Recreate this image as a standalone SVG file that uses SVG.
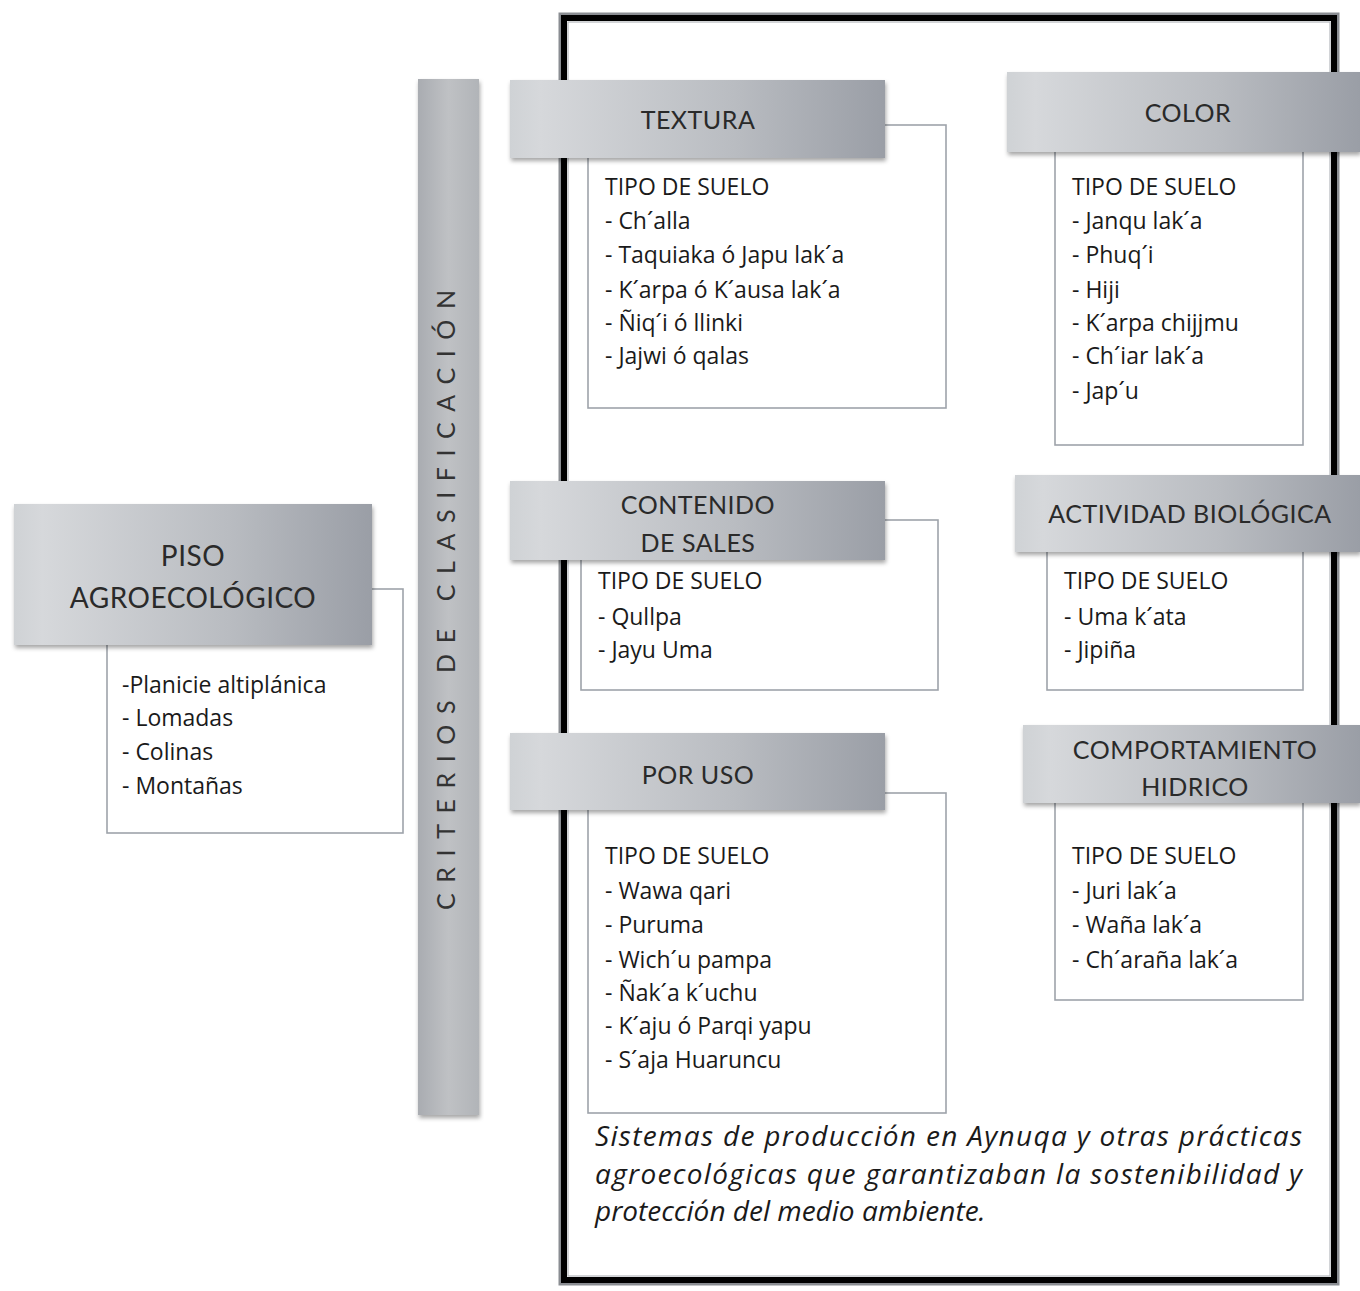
<svg xmlns="http://www.w3.org/2000/svg" width="1360" height="1291" viewBox="0 0 1360 1291">
<defs>
<linearGradient id="hdr" x1="0" y1="0" x2="1" y2="0">
<stop offset="0" stop-color="#cfd2d5"/>
<stop offset="0.08" stop-color="#d6d8db"/>
<stop offset="0.6" stop-color="#b9bcc1"/>
<stop offset="1" stop-color="#9a9ea6"/>
</linearGradient>
<linearGradient id="bar" x1="0" y1="0" x2="1" y2="0">
<stop offset="0" stop-color="#a9acb1"/>
<stop offset="0.5" stop-color="#bfc1c4"/>
<stop offset="1" stop-color="#b1b4b8"/>
</linearGradient>
<filter id="sh" x="-5%" y="-10%" width="112%" height="130%">
<feDropShadow dx="1" dy="3" stdDeviation="2" flood-color="#000" flood-opacity="0.35"/>
</filter>
</defs>
<style>
.hdr{fill:url(#hdr);filter:url(#sh)}
.box{fill:#fff;stroke:#9ea3aa;stroke-width:1.6}
.ht{font-family:Lato,"Open Sans","Liberation Sans",sans-serif;font-size:25px;fill:#2a2a2a;text-anchor:middle;letter-spacing:0.5px}
.li{font-family:"Open Sans",Lato,"Liberation Sans",sans-serif;font-size:23px;fill:#1a1a1a}
.cap{font-family:"Open Sans",Lato,"Liberation Sans",sans-serif;font-size:28px;font-style:italic;fill:#1a1a1a}
</style>
<rect width="1360" height="1291" fill="#fff"/>

<g id="frame">
<rect x="560" y="14" width="778" height="1270" fill="none" stroke="#8a8d92" stroke-width="3"/>
<rect x="564" y="18" width="770" height="1262" fill="none" stroke="#000" stroke-width="6"/>
<rect x="568" y="22" width="762" height="1254" fill="none" stroke="#b5b8bc" stroke-width="1.2"/>
</g>

<g id="connectors"></g>

<g id="criterios">
<rect x="418" y="79" width="61" height="1036" fill="url(#bar)" filter="url(#sh)"/>
<text transform="translate(455,910) rotate(-90)" textLength="620" lengthAdjust="spacing" style="font-family:Lato,'Open Sans','Liberation Sans',sans-serif;font-size:25px;fill:#333">CRITERIOS DE CLASIFICACIÓN</text>
</g>

<g id="piso">
<rect class="box" x="107" y="589" width="296" height="244"/>
<rect class="hdr" x="14" y="504" width="358" height="141"/>
<text class="ht" x="193" y="566" style="font-size:28px">PISO</text>
<text class="ht" x="193" y="608" style="font-size:28px">AGROECOLÓGICO</text>
<text class="li" x="122" y="693">-Planicie altiplánica</text>
<text class="li" x="122" y="726">- Lomadas</text>
<text class="li" x="122" y="760">- Colinas</text>
<text class="li" x="122" y="794">- Montañas</text>
</g>

<g id="textura">
<rect class="box" x="588" y="125" width="358" height="283"/>
<rect class="hdr" x="510" y="80" width="375" height="78"/>
<text class="ht" x="698" y="129">TEXTURA</text>
<text class="li" x="605" y="195">TIPO DE SUELO</text>
<text class="li" x="605" y="229">- Ch´alla</text>
<text class="li" x="605" y="263">- Taquiaka ó Japu lak´a</text>
<text class="li" x="605" y="298">- K´arpa ó K´ausa lak´a</text>
<text class="li" x="605" y="331">- Ñiq´i ó llinki</text>
<text class="li" x="605" y="364">- Jajwi ó qalas</text>
</g>

<g id="color">
<rect class="box" x="1055" y="145" width="248" height="300"/>
<rect class="hdr" x="1007" y="72" width="353" height="80"/>
<text class="ht" x="1188" y="122">COLOR</text>
<text class="li" x="1072" y="195">TIPO DE SUELO</text>
<text class="li" x="1072" y="229">- Janqu lak´a</text>
<text class="li" x="1072" y="263">- Phuq´i</text>
<text class="li" x="1072" y="298">- Hiji</text>
<text class="li" x="1072" y="331">- K´arpa chijjmu</text>
<text class="li" x="1072" y="364">- Ch´iar lak´a</text>
<text class="li" x="1072" y="399">- Jap´u</text>
</g>

<g id="sales">
<rect class="box" x="581" y="520" width="357" height="170"/>
<rect class="hdr" x="510" y="481" width="375" height="79"/>
<text class="ht" x="698" y="514">CONTENIDO</text>
<text class="ht" x="698" y="552">DE SALES</text>
<text class="li" x="598" y="589">TIPO DE SUELO</text>
<text class="li" x="598" y="625">- Qullpa</text>
<text class="li" x="598" y="658">- Jayu Uma</text>
</g>

<g id="biologica">
<rect class="box" x="1047" y="545" width="256" height="145"/>
<rect class="hdr" x="1015" y="475" width="345" height="77"/>
<text class="ht" x="1190" y="523">ACTIVIDAD BIOLÓGICA</text>
<text class="li" x="1064" y="589">TIPO DE SUELO</text>
<text class="li" x="1064" y="625">- Uma k´ata</text>
<text class="li" x="1064" y="658">- Jipiña</text>
</g>

<g id="uso">
<rect class="box" x="588" y="793" width="358" height="320"/>
<rect class="hdr" x="510" y="733" width="375" height="77"/>
<text class="ht" x="698" y="784">POR USO</text>
<text class="li" x="605" y="864">TIPO DE SUELO</text>
<text class="li" x="605" y="899">- Wawa qari</text>
<text class="li" x="605" y="933">- Puruma</text>
<text class="li" x="605" y="968">- Wich´u pampa</text>
<text class="li" x="605" y="1001">- Ñak´a k´uchu</text>
<text class="li" x="605" y="1034">- K´aju ó Parqi yapu</text>
<text class="li" x="605" y="1068">- S´aja Huaruncu</text>
</g>

<g id="hidrico">
<rect class="box" x="1055" y="798" width="248" height="202"/>
<rect class="hdr" x="1023" y="725" width="337" height="78"/>
<text class="ht" x="1195" y="759">COMPORTAMIENTO</text>
<text class="ht" x="1195" y="796">HIDRICO</text>
<text class="li" x="1072" y="864">TIPO DE SUELO</text>
<text class="li" x="1072" y="899">- Juri lak´a</text>
<text class="li" x="1072" y="933">- Waña lak´a</text>
<text class="li" x="1072" y="968">- Ch´araña lak´a</text>
</g>

<g id="caption">
<text class="cap" x="595" y="1146" textLength="707" lengthAdjust="spacing">Sistemas de producción en Aynuqa y otras prácticas</text>
<text class="cap" x="595" y="1184" textLength="707" lengthAdjust="spacing">agroecológicas que garantizaban la sostenibilidad y</text>
<text class="cap" x="595" y="1221">protección del medio ambiente.</text>
</g>
</svg>
